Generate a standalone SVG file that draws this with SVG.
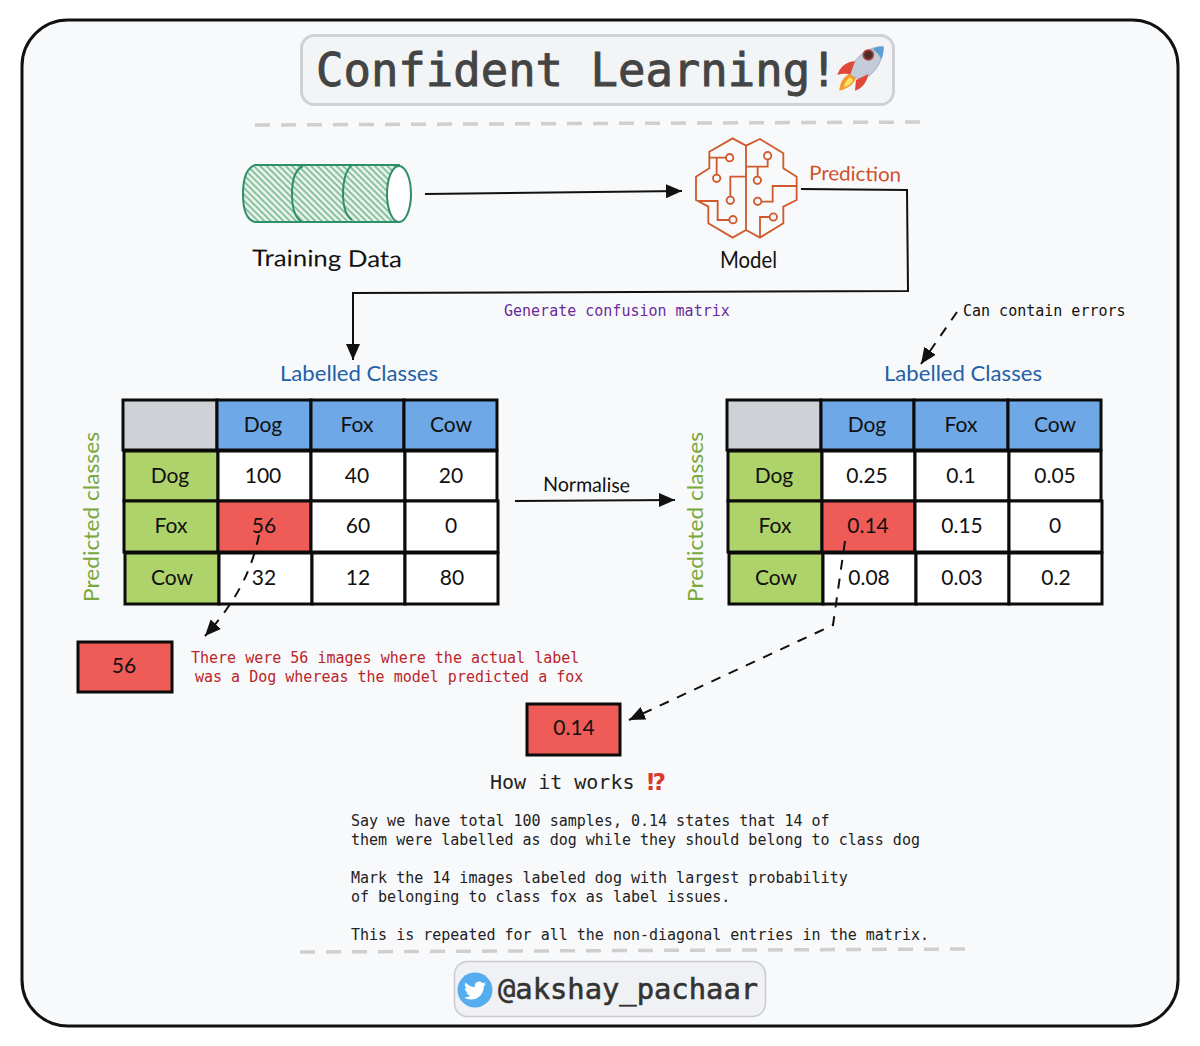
<svg xmlns="http://www.w3.org/2000/svg" width="1200" height="1046" viewBox="0 0 1200 1046">
<style>
.h{font-family:"Lato","Noto Sans",sans-serif;fill:#111}
.c{font-size:21px;text-anchor:middle}
.m{font-family:"DejaVu Sans Mono","Liberation Mono",monospace}
.b{font-size:15px;fill:#222}
.cell{stroke:#0b0b0b;stroke-width:3}
.gy{fill:#ced2d6}.bl{fill:#6fa8e6}.gr{fill:#afd36b}.wh{fill:#fff}.rd{fill:#ef5b57}
.sep{fill:none;stroke:#cfcfcf;stroke-width:3.500;stroke-dasharray:15 11}
.ln{fill:none;stroke:#111;stroke-width:2}
.da{fill:none;stroke:#111;stroke-width:2;stroke-dasharray:10 9}
.lab{fill:#2360a8;font-size:22px}
.pred{fill:#7aa83c;font-size:22px}
.br{fill:none;stroke:#cf5a2c;stroke-width:5.500}
.rt{font-size:15px;fill:#b8262a}
</style>
<defs>
<marker id="ah" markerUnits="userSpaceOnUse" markerWidth="18" markerHeight="16" refX="16" refY="7" orient="auto"><path d="M0,0L16,7L0,14z" fill="#111"/></marker>
<pattern id="hatch" width="4.500" height="4.500" patternUnits="userSpaceOnUse" patternTransform="rotate(45)"><rect width="4.500" height="4.500" fill="#e6f1e9"/><rect width="4.500" height="1.700" fill="#7fbd97"/></pattern>
</defs>
<rect width="1200" height="1046" fill="#fff"/>
<rect id="frame" x="22" y="20" width="1156" height="1006" rx="46" fill="#f8f9fb" stroke="#111" stroke-width="3"/>

<g id="title">
<rect x="301.500" y="35.500" width="592" height="69" rx="13" fill="#f3f4f6" stroke="#cfd1d4" stroke-width="3"/>
<text class="m" x="316" y="86" font-size="45.600" fill="#444" stroke="#444" stroke-width=".9">Confident Learning!</text>
<g transform="translate(800 20) scale(.3333)">
<path d="M250 80C215 78 180 100 160 130L150 165L185 180C225 165 250 120 250 80Z" fill="#c3ccd8" stroke="#8e9bae" stroke-width="2"/>
<path d="M250 80C235 79 224 84 218 88C232 98 240 108 244 118C250 102 252 90 250 80Z" fill="#5c9fd6"/>
<circle cx="205" cy="105" r="15" fill="#4a2f2f" stroke="#b2413a" stroke-width="5"/>
<path d="M165 124C140 125 120 140 112 165C125 160 140 160 150 165Z" fill="#e2483a"/>
<path d="M168 180L165 212C185 205 200 190 205 162Z" fill="#e2483a"/>
<path d="M150 163C128 170 120 190 118 212C140 208 160 195 168 175Z" fill="#f49a2c"/>
<path d="M150 172C138 180 133 192 132 202C145 198 155 190 160 180Z" fill="#fbe36a"/>
</g>
</g>
<path class="sep" d="M255 125L922 122"/>

<g id="training-data">
<path d="M255 165H399V222H255C246 220 243 208 243 194C243 180 246 168 255 165Z" fill="url(#hatch)" stroke="#2f8f68" stroke-width="2"/>
<path d="M303 166C294 170 292 184 292 194C292 208 295 218 302 222M352 165C345 170 343 184 343 193C343 206 346 216 352 220" fill="none" stroke="#2f8f68" stroke-width="2"/>
<ellipse cx="399" cy="194" rx="12" ry="28" fill="#fff" stroke="#2f8f68" stroke-width="2"/>
<text class="h" x="252" y="266" font-size="23" textLength="150" lengthAdjust="spacingAndGlyphs" transform="rotate(.5 252 266)">Training Data</text>
</g>

<g id="model">
<g transform="translate(670 125) scale(.3333)">
<path class="br" d="M228 62L188 40L118 80V130L78 155V225L115 245V295L188 338L228 315L270 338L340 295V245L380 225V155L340 130V85L270 42ZM228 62V315"/>
<path class="br" d="M118 98H168M140 98V149M293 103V125H228M263 125V155M228 155H181V215M85 228H143V285H178M380 183H308V230H275M298 276H270V338"/>
<circle class="br" cx="179" cy="98" r="11"/><circle class="br" cx="140" cy="160" r="11"/><circle class="br" cx="293" cy="92" r="11"/><circle class="br" cx="262" cy="166" r="11"/><circle class="br" cx="181" cy="226" r="11"/><circle class="br" cx="189" cy="284" r="11"/><circle class="br" cx="263" cy="229" r="11"/><circle class="br" cx="310" cy="276" r="11"/>
</g>
<text class="h" x="720" y="268" font-size="23" textLength="57" lengthAdjust="spacingAndGlyphs">Model</text>
</g>

<text class="h" x="809" y="180" font-size="20" style="fill:#d0502a" textLength="92" lengthAdjust="spacingAndGlyphs" transform="rotate(1 809 180)">Prediction</text>
<text class="m" x="504" y="316" font-size="15" fill="#6b2a9a">Generate confusion matrix</text>
<text class="m" x="963" y="316" font-size="15" fill="#111">Can contain errors</text>
<text class="h lab" x="280" y="381" textLength="158" lengthAdjust="spacingAndGlyphs">Labelled Classes</text>
<text class="h lab" x="884" y="381" textLength="158" lengthAdjust="spacingAndGlyphs">Labelled Classes</text>
<text class="h pred" transform="translate(99 602) rotate(-90)" textLength="170" lengthAdjust="spacingAndGlyphs">Predicted classes</text>
<text class="h pred" transform="translate(703 602) rotate(-90)" textLength="170" lengthAdjust="spacingAndGlyphs">Predicted classes</text>
<text class="h" x="543" y="491" font-size="20" textLength="87" lengthAdjust="spacingAndGlyphs" transform="rotate(1 543 491)">Normalise</text>

<g id="left-matrix">
<g id="l00"><rect class="cell gy" x="123" y="400" width="94" height="50"/></g>
<g id="l01"><rect class="cell bl" x="217" y="400" width="94" height="50"/><text class="h c" x="263" y="432">Dog</text></g>
<g id="l02"><rect class="cell bl" x="311" y="400" width="93" height="50"/><text class="h c" x="357" y="432">Fox</text></g>
<g id="l03"><rect class="cell bl" x="404" y="400" width="93" height="50"/><text class="h c" x="451" y="432">Cow</text></g>
<g id="l10"><rect class="cell gr" x="124" y="451" width="94" height="50"/><text class="h c" x="170" y="483">Dog</text></g>
<g id="l11"><rect class="cell wh" x="218" y="451" width="93" height="50"/><text class="h c" x="263" y="483">100</text></g>
<g id="l12"><rect class="cell wh" x="311" y="451" width="94" height="50"/><text class="h c" x="357" y="483">40</text></g>
<g id="l13"><rect class="cell wh" x="405" y="451" width="92" height="50"/><text class="h c" x="451" y="483">20</text></g>
<g id="l20"><rect class="cell gr" x="124" y="501" width="94" height="51"/><text class="h c" x="171" y="533">Fox</text></g>
<g id="l21"><rect class="cell rd" x="218" y="501" width="93" height="51"/><text class="h c" x="264" y="533">56</text></g>
<g id="l22"><rect class="cell wh" x="311" y="501" width="94" height="51"/><text class="h c" x="358" y="533">60</text></g>
<g id="l23"><rect class="cell wh" x="405" y="501" width="93" height="51"/><text class="h c" x="451" y="533">0</text></g>
<g id="l30"><rect class="cell gr" x="125" y="553" width="94" height="51"/><text class="h c" x="172" y="585">Cow</text></g>
<g id="l31"><rect class="cell wh" x="219" y="553" width="93" height="51"/><text class="h c" x="264" y="585">32</text></g>
<g id="l32"><rect class="cell wh" x="312" y="553" width="93" height="51"/><text class="h c" x="358" y="585">12</text></g>
<g id="l33"><rect class="cell wh" x="405" y="553" width="93" height="51"/><text class="h c" x="452" y="585">80</text></g>
</g>

<g id="right-matrix">
<g id="r00"><rect class="cell gy" x="727" y="400" width="94" height="50"/></g>
<g id="r01"><rect class="cell bl" x="821" y="400" width="93" height="50"/><text class="h c" x="867" y="432">Dog</text></g>
<g id="r02"><rect class="cell bl" x="914" y="400" width="94" height="50"/><text class="h c" x="961" y="432">Fox</text></g>
<g id="r03"><rect class="cell bl" x="1008" y="400" width="93" height="50"/><text class="h c" x="1055" y="432">Cow</text></g>
<g id="r10"><rect class="cell gr" x="728" y="451" width="94" height="50"/><text class="h c" x="774" y="483">Dog</text></g>
<g id="r11"><rect class="cell wh" x="822" y="451" width="93" height="50"/><text class="h c" x="867" y="483">0.25</text></g>
<g id="r12"><rect class="cell wh" x="915" y="451" width="94" height="50"/><text class="h c" x="961" y="483">0.1</text></g>
<g id="r13"><rect class="cell wh" x="1009" y="451" width="92" height="50"/><text class="h c" x="1055" y="483">0.05</text></g>
<g id="r20"><rect class="cell gr" x="728" y="501" width="94" height="51"/><text class="h c" x="775" y="533">Fox</text></g>
<g id="r21"><rect class="cell rd" x="822" y="501" width="93" height="51"/><text class="h c" x="868" y="533">0.14</text></g>
<g id="r22"><rect class="cell wh" x="915" y="501" width="94" height="51"/><text class="h c" x="962" y="533">0.15</text></g>
<g id="r23"><rect class="cell wh" x="1009" y="501" width="93" height="51"/><text class="h c" x="1055" y="533">0</text></g>
<g id="r30"><rect class="cell gr" x="729" y="553" width="94" height="51"/><text class="h c" x="776" y="585">Cow</text></g>
<g id="r31"><rect class="cell wh" x="823" y="553" width="93" height="51"/><text class="h c" x="869" y="585">0.08</text></g>
<g id="r32"><rect class="cell wh" x="916" y="553" width="93" height="51"/><text class="h c" x="962" y="585">0.03</text></g>
<g id="r33"><rect class="cell wh" x="1009" y="553" width="93" height="51"/><text class="h c" x="1056" y="585">0.2</text></g>
</g>

<g id="box-56"><rect class="cell rd" x="78" y="642" width="94" height="50"/><text class="h c" x="124" y="673">56</text></g>
<g id="box-014"><rect class="cell rd" x="527" y="704" width="93" height="51"/><text class="h c" x="574" y="735">0.14</text></g>

<g id="connectors">
<path class="ln" d="M425 194L682 191" marker-end="url(#ah)"/>
<path class="ln" d="M801 189L907 190L908 291L353 293V360" marker-end="url(#ah)"/>
<path class="ln" d="M515 501L675 500" marker-end="url(#ah)"/>
<path class="da" d="M957 312L921 364" marker-end="url(#ah)"/>
<path class="da" d="M259 535C252 570 236 602 205 636" marker-end="url(#ah)"/>
<path class="da" d="M845 541L833 625L629 720" marker-end="url(#ah)"/>
</g>

<text class="m rt" x="191" y="663">There were 56 images where the actual label</text>
<text class="m rt" x="195" y="682">was a Dog whereas the model predicted a fox</text>

<text class="m" x="490" y="789" font-size="20" fill="#222">How it works</text>
<text x="647" y="790" font-family="DejaVu Sans,sans-serif" font-size="23" font-weight="bold" fill="#d8392b">⁉</text>
<text class="m b" x="351" y="825.500">Say we have total 100 samples, 0.14 states that 14 of</text>
<text class="m b" x="351" y="844.500">them were labelled as dog while they should belong to class dog</text>
<text class="m b" x="351" y="882.500">Mark the 14 images labeled dog with largest probability</text>
<text class="m b" x="351" y="901.500">of belonging to class fox as label issues.</text>
<text class="m b" x="351" y="939.500">This is repeated for all the non-diagonal entries in the matrix.</text>

<path class="sep" d="M300 952L967 949"/>

<g id="handle">
<rect x="454.500" y="961.500" width="311" height="55" rx="13" fill="#f0f1f4" stroke="#c9cbcf" stroke-width="1.500"/>
<circle cx="475" cy="990" r="17.500" fill="#55acee"/>
<path transform="translate(464 979.500) scale(.92)" fill="#fff" d="M23.953 4.570a10 10 0 01-2.825.775 4.958 4.958 0 002.163-2.723c-.951.555-2.005.959-3.127 1.184a4.920 4.920 0 00-8.384 4.482C7.690 8.095 4.067 6.130 1.640 3.162a4.822 4.822 0 00-.666 2.475c0 1.710.870 3.213 2.188 4.096a4.904 4.904 0 01-2.228-.616v.060a4.923 4.923 0 003.946 4.827 4.996 4.996 0 01-2.212.085 4.936 4.936 0 004.604 3.417 9.867 9.867 0 01-6.102 2.105c-.390 0-.779-.023-1.170-.067a13.995 13.995 0 007.557 2.209c9.053 0 13.998-7.496 13.998-13.985 0-.210 0-.420-.015-.630A9.935 9.935 0 0024 4.590z"/>
<text class="m" x="498" y="999" font-size="28.800" fill="#333" stroke="#333" stroke-width=".6">@akshay_pachaar</text>
</g>
</svg>
